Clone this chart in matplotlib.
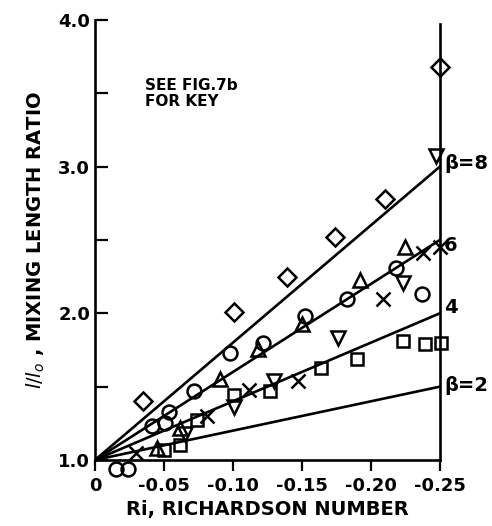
import matplotlib.pyplot as plt

# Richardson number (x) and mixing length ratio l/l0 (y)
diamond_ri = [-0.035, -0.101, -0.139, -0.174, -0.210, -0.250]
diamond_l = [1.40, 2.01, 2.25, 2.52, 2.78, 3.68]

circle_ri = [-0.015, -0.024, -0.041, -0.051, -0.054, -0.072, -0.098, -0.122,
             -0.152, -0.183, -0.218, -0.237]
circle_l = [0.94, 0.94, 1.23, 1.25, 1.33, 1.47, 1.73, 1.80, 1.98, 2.10, 2.31, 2.13]

tri_up_ri = [-0.045, -0.062, -0.091, -0.118, -0.150, -0.192, -0.225]
tri_up_l = [1.08, 1.22, 1.55, 1.76, 1.93, 2.23, 2.45]

tri_down_ri = [-0.065, -0.101, -0.130, -0.176, -0.223, -0.247]
tri_down_l = [1.18, 1.36, 1.54, 1.83, 2.21, 3.07]

square_ri = [-0.050, -0.062, -0.074, -0.101, -0.127, -0.164, -0.190, -0.223,
             -0.239, -0.251]
square_l = [1.07, 1.10, 1.27, 1.44, 1.47, 1.63, 1.69, 1.81, 1.79, 1.80]

cross_ri = [-0.030, -0.081, -0.112, -0.147, -0.209, -0.238, -0.250]
cross_l = [1.05, 1.30, 1.48, 1.54, 2.10, 2.41, 2.45]

# theory lines, from (0, 1.0) to Ri = -0.25
betas = ["β=2", "4", "6", "β=8"]
line_end = [1.5, 2.0, 2.5, 3.0]
label_y = [1.51, 2.04, 2.46, 3.02]

fig = plt.figure(figsize=(4.92, 5.26), dpi=100)
ax = fig.add_axes([0.193, 0.1255, 0.701, 0.8365])

for end in line_end:
    ax.plot([0, -0.25], [1.0, end], color="black", lw=1.9)

mk = dict(color="black", mfc="none", mew=1.8, ls="none", clip_on=False)
ax.plot(diamond_ri, diamond_l, marker="D", ms=9, **mk)
ax.plot(circle_ri, circle_l, marker="o", ms=10, **mk)
ax.plot(tri_up_ri, tri_up_l, marker="^", ms=10, **mk)
ax.plot(tri_down_ri, tri_down_l, marker="v", ms=10, **mk)
ax.plot(square_ri, square_l, marker="s", ms=9, **mk)
ax.plot(cross_ri, cross_l, marker="x", ms=10, **mk)

for name, yy in zip(betas, label_y):
    ax.text(-0.253, yy, name, fontsize=14, fontweight="bold", va="center", ha="left")

ax.text(-0.036, 3.5, "SEE FIG.7b\nFOR KEY", fontsize=11, fontweight="bold",
        va="center", ha="left", linespacing=1.1)

ax.set_xlim(0, -0.25)
ax.set_ylim(1.0, 4.0)
ax.spines["top"].set_visible(False)
for s in ["left", "bottom", "right"]:
    ax.spines[s].set_linewidth(1.9)
ax.spines["right"].set_bounds(1.0, 3.97)

ax.set_xticks([0, -0.05, -0.10, -0.15, -0.20, -0.25])
ax.set_xticklabels(["0", "-0.05", "-0.10", "-0.15", "-0.20", "-0.25"])
ax.set_yticks([1.0, 2.0, 3.0, 4.0])
ax.set_yticklabels(["1.0", "2.0", "3.0", "4.0"])
ax.set_yticks([1.5, 2.5, 3.5], minor=True)
ax.tick_params(axis="x", direction="out", length=8, width=1.6, labelsize=13, pad=4)
ax.tick_params(axis="y", which="both", direction="in", length=9, width=1.6,
               labelsize=13, right=False)
for lab in ax.get_xticklabels() + ax.get_yticklabels():
    lab.set_fontweight("bold")

ax.set_xlabel("Ri, RICHARDSON NUMBER", fontsize=14, fontweight="bold", labelpad=4)
ax.set_ylabel("$l/l_o$ , MIXING LENGTH RATIO", fontsize=14, fontweight="bold",
              labelpad=8)

fig.savefig("out.png", dpi=100)
